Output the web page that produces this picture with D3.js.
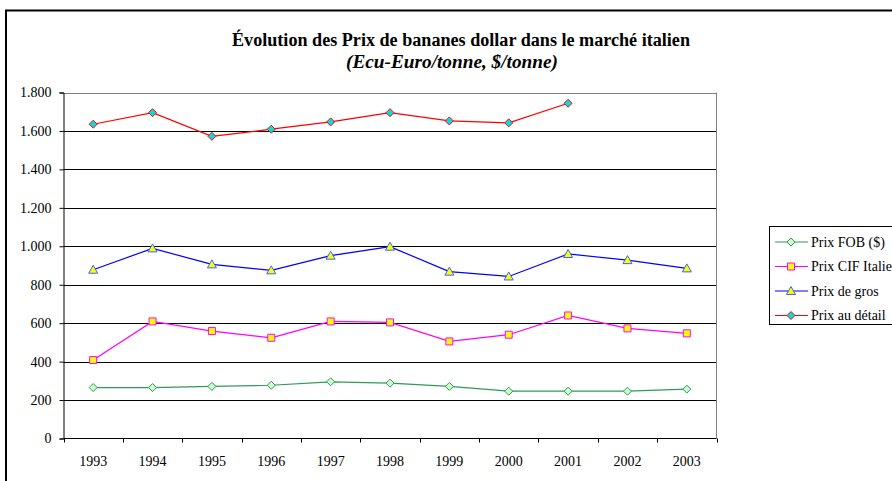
<!DOCTYPE html>
<html><head><meta charset="utf-8"><script src="https://cdn.jsdelivr.net/npm/d3@7"></script></head>
<body style="margin:0">
<svg width="892" height="481" font-family="serif"></svg>
<script>
var years = ["1993", "1994", "1995", "1996", "1997", "1998", "1999", "2000", "2001", "2002", "2003"];
var yTicks = [0, 200, 400, 600, 800, 1000, 1200, 1400, 1600, 1800];

var prixFOB = [265, 265, 271, 277, 295, 288, 271, 246, 246, 246, 257];
var prixCIF = [408, 609, 559, 524, 609, 604, 505, 540, 640, 573, 547];
var prixGros = [878, 989, 906, 875, 951, 998, 868, 843, 960, 928, 885];
var prixDetail = [1635, 1695, 1572, 1609, 1647, 1695, 1652, 1642, 1744, null, null];

var seriesNames = ["Prix FOB ($)", "Prix CIF Italie", "Prix de gros", "Prix au détail"];

var series = [
  { name: seriesNames[0], values: prixFOB, line: "#2e9a5c", stroke: "#2e9a5c", fill: "#ccffcc", shape: "diamond" },
  { name: seriesNames[1], values: prixCIF, line: "#ff00ff", stroke: "#ff00ff", fill: "#ffff00", shape: "square" },
  { name: seriesNames[2], values: prixGros, line: "#0000ff", stroke: "#3366ff", fill: "#ffff00", shape: "triangle" },
  { name: seriesNames[3], values: prixDetail, line: "#ff0000", stroke: "#ff0000", fill: "#00e0e0", shape: "diamond" }
];

var FONT = "serif";

var svg = d3.select("svg");

// outer chart frame (runs off the right/bottom edge like the original)
svg.append("rect")
  .attr("x", 6).attr("y", 10.5)
  .attr("width", 900).attr("height", 480)
  .attr("fill", "none")
  .attr("stroke", "#000")
  .attr("stroke-width", 2);

var plot = { left: 63.5, right: 716.5, top: 92.5, bottom: 438.5 };

var x = d3.scaleBand()
  .domain(years)
  .range([plot.left, plot.right]);

var y = d3.scaleLinear()
  .domain([0, 1800])
  .range([plot.bottom, plot.top]);

// title
svg.append("text")
  .attr("x", 461).attr("y", 46)
  .attr("text-anchor", "middle")
  .attr("font-family", FONT)
  .attr("font-size", 18)
  .attr("font-weight", "bold")
  .attr("textLength", 458)
  .attr("lengthAdjust", "spacingAndGlyphs")
  .text("Évolution des Prix de bananes dollar dans le marché italien");

svg.append("text")
  .attr("x", 452).attr("y", 68)
  .attr("text-anchor", "middle")
  .attr("font-family", FONT)
  .attr("font-size", 18)
  .attr("font-weight", "bold")
  .attr("font-style", "italic")
  .attr("textLength", 212)
  .attr("lengthAdjust", "spacingAndGlyphs")
  .text("(Ecu-Euro/tonne, $/tonne)");

// gridlines
svg.append("g")
  .selectAll("line")
  .data(yTicks.slice(1))
  .enter().append("line")
  .attr("x1", plot.left).attr("x2", plot.right)
  .attr("y1", function (d) { return Math.round(y(d)) + 0.5; })
  .attr("y2", function (d) { return Math.round(y(d)) + 0.5; })
  .attr("stroke", function (d) { return d === 1800 ? "#808080" : "#000"; })
  .attr("stroke-width", 1);

// right border of plot
svg.append("line")
  .attr("x1", plot.right).attr("x2", plot.right)
  .attr("y1", plot.top).attr("y2", plot.bottom)
  .attr("stroke", "#808080");

// y axis
var yAxis = svg.append("g")
  .attr("transform", "translate(" + plot.left + ",0)")
  .call(d3.axisLeft(y)
    .tickValues(yTicks)
    .tickSize(4)
    .tickPadding(8)
    .tickFormat(function (d) { return d3.format(",")(d).replace(/,/g, "."); }));
yAxis.attr("font-family", FONT).attr("font-size", 14);
yAxis.selectAll("text").attr("fill", "#000").attr("font-family", FONT);
yAxis.select(".domain").attr("stroke", "#000");
yAxis.selectAll(".tick line").attr("stroke", "#000");

// x axis with ticks on the category boundaries
var xAxis = svg.append("g")
  .attr("transform", "translate(0," + plot.bottom + ")");
xAxis.append("line")
  .attr("x1", plot.left).attr("x2", plot.right)
  .attr("stroke", "#000");
xAxis.selectAll(".bound")
  .data(years.concat(["end"]))
  .enter().append("line")
  .attr("class", "bound")
  .attr("x1", function (d, i) { return Math.round(plot.left + i * x.bandwidth()) + 0.5; })
  .attr("x2", function (d, i) { return Math.round(plot.left + i * x.bandwidth()) + 0.5; })
  .attr("y1", 0).attr("y2", 4)
  .attr("stroke", "#000");
xAxis.selectAll(".lbl")
  .data(years)
  .enter().append("text")
  .attr("class", "lbl")
  .attr("x", function (d) { return x(d) + x.bandwidth() / 2; })
  .attr("y", 27)
  .attr("text-anchor", "middle")
  .attr("font-family", FONT)
  .attr("font-size", 14)
  .text(function (d) { return d; });

function markerPath(shape) {
  if (shape === "diamond") return "M0,-4L4,0L0,4L-4,0Z";
  if (shape === "square") return "M-3.5,-3.5H3.5V3.5H-3.5Z";
  return "M0,-4.5L4.5,3.5H-4.5Z";
}

// lines and markers
series.forEach(function (s) {
  var pts = s.values.map(function (v, i) { return { year: years[i], value: v }; })
    .filter(function (p) { return p.value !== null; });

  svg.append("path")
    .datum(pts)
    .attr("fill", "none")
    .attr("stroke", s.line)
    .attr("stroke-width", 1.2)
    .attr("d", d3.line()
      .x(function (d) { return x(d.year) + x.bandwidth() / 2; })
      .y(function (d) { return y(d.value); }));

  svg.append("g")
    .selectAll("path")
    .data(pts)
    .enter().append("path")
    .attr("transform", function (d) {
      return "translate(" + (x(d.year) + x.bandwidth() / 2) + "," + y(d.value) + ")";
    })
    .attr("d", markerPath(s.shape))
    .attr("fill", s.fill)
    .attr("stroke", s.stroke)
    .attr("stroke-width", 1);
});

// legend
var legend = svg.append("g");
legend.append("rect")
  .attr("x", 769.5).attr("y", 226.5)
  .attr("width", 140).attr("height", 98)
  .attr("fill", "#fff")
  .attr("stroke", "#000")
  .attr("stroke-width", 1);

var item = legend.selectAll(".item")
  .data(series)
  .enter().append("g")
  .attr("class", "item")
  .attr("transform", function (d, i) { return "translate(0," + (242 + i * 24.5) + ")"; });

item.append("line")
  .attr("x1", 775).attr("x2", 808)
  .attr("stroke", function (d) { return d.line; })
  .attr("stroke-width", 1.2);
item.append("path")
  .attr("transform", "translate(791,0)")
  .attr("d", function (d) { return markerPath(d.shape); })
  .attr("fill", function (d) { return d.fill; })
  .attr("stroke", function (d) { return d.stroke; });
item.append("text")
  .attr("x", 811).attr("y", 4.5)
  .attr("font-family", FONT)
  .attr("font-size", 14)
  .text(function (d) { return d.name; });
</script>
</body>
</html>
